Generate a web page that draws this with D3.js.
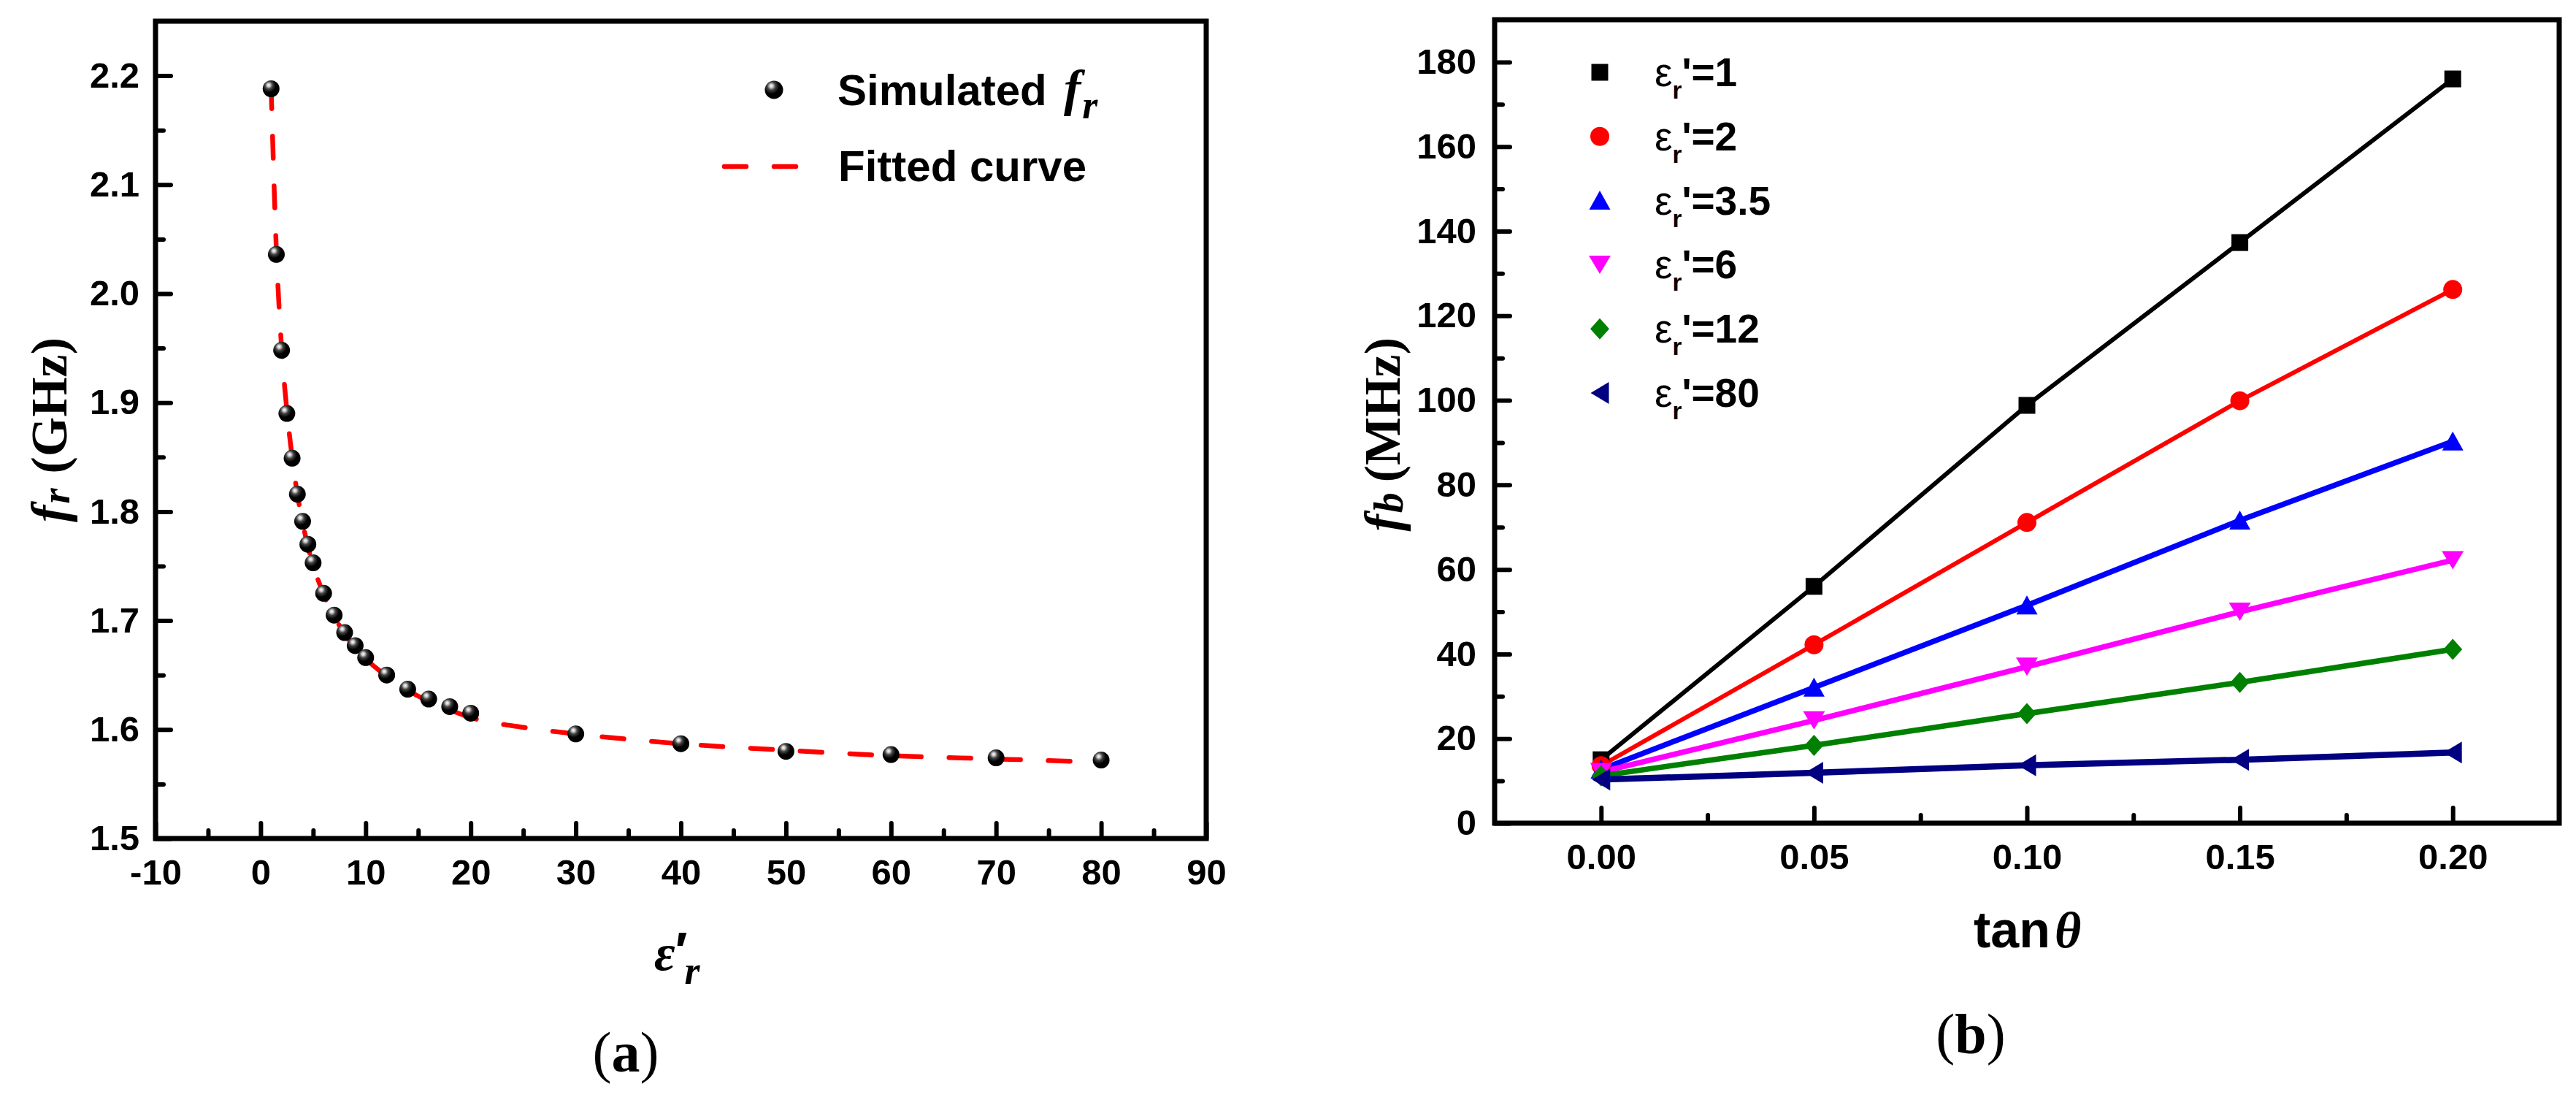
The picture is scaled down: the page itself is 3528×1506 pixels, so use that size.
<!DOCTYPE html>
<html><head><meta charset="utf-8">
<script src="https://cdn.jsdelivr.net/npm/d3@7"></script>
<style>body{margin:0;background:#fff}</style>
</head><body>
<svg id="c" width="3528" height="1506" xmlns="http://www.w3.org/2000/svg"></svg>
<script>
// ---------------- DATA ----------------
// Panel (a): simulated resonance frequency vs relative permittivity
const simEps = [1, 1.5, 2, 2.5, 3, 3.5, 4, 4.5, 5, 6, 7, 8, 9, 10, 12, 14, 16, 18, 20, 30, 40, 50, 60, 70, 80];
const simFr  = [2.188, 2.036, 1.948, 1.890, 1.849, 1.816, 1.791, 1.770, 1.753, 1.725, 1.705, 1.689, 1.677, 1.666, 1.650, 1.637, 1.628, 1.621, 1.615, 1.596, 1.587, 1.580, 1.577, 1.574, 1.572];
// Fitted curve
const fitEps = [1, 1.5, 2, 2.5, 3, 3.5, 4, 4.5, 5, 6, 7, 8, 9, 10, 12, 14, 16, 18, 20, 25, 30, 40, 50, 60, 70, 80];
const fitFr  = [2.190, 2.040, 1.950, 1.893, 1.850, 1.816, 1.790, 1.768, 1.751, 1.724, 1.704, 1.688, 1.675, 1.665, 1.649, 1.636, 1.626, 1.618, 1.611, 1.602, 1.596, 1.587, 1.581, 1.576, 1.573, 1.570];
const aXTicks = [-10, 0, 10, 20, 30, 40, 50, 60, 70, 80, 90];
const aXMinor = [-5, 5, 15, 25, 35, 45, 55, 65, 75, 85];
const aYTicks = [1.5, 1.6, 1.7, 1.8, 1.9, 2.0, 2.1, 2.2];
const aYMinor = [1.55, 1.65, 1.75, 1.85, 1.95, 2.05, 2.15];

// Panel (b): bandwidth vs loss tangent
const tanVals = [0, 0.05, 0.10, 0.15, 0.20];
const seriesLabels = ["1", "2", "3.5", "6", "12", "80"];
const fbEps1   = [15.0, 56.0, 98.8, 137.3, 176.0];
const fbEps2   = [13.6, 42.2, 71.1, 99.9, 126.2];
const fbEps3p5 = [12.7, 32.1, 51.5, 71.6, 90.3];
const fbEps6   = [12.1, 24.3, 37.0, 50.0, 62.2];
const fbEps12  = [11.2, 18.4, 25.9, 33.3, 41.1];
const fbEps80  = [10.3, 11.9, 13.7, 15.0, 16.7];
const bXTicks = [0, 0.05, 0.10, 0.15, 0.20];
const bXMinor = [0.025, 0.075, 0.125, 0.175];
const bYTicks = [0, 20, 40, 60, 80, 100, 120, 140, 160, 180];
const bYMinor = [10, 30, 50, 70, 90, 110, 130, 150, 170];

// ---------------- STYLE ----------------
const SANS = "'Liberation Sans', Arial, sans-serif";
const SERIF = "'Liberation Serif', 'Times New Roman', serif";
const colors = ["#000000", "#ff0000", "#0000ff", "#ff00ff", "#008000", "#000080"];
const widths = [6, 6, 7.5, 7.5, 7.5, 8.5];
const shapes = ["square", "circle", "triUp", "triDown", "diamond", "triLeft"];
const seriesData = [fbEps1, fbEps2, fbEps3p5, fbEps6, fbEps12, fbEps80];

function markerPath(shape) {
  switch (shape) {
    case "square": return "M-11.5,-11.5H11.5V11.5H-11.5Z";
    case "circle": return "M13,0A13,13 0 1,1 -13,0A13,13 0 1,1 13,0Z";
    case "triUp": return "M0,-13.5L14.5,12.5L-14.5,12.5Z";
    case "triDown": return "M0,12.5L15,-12.5L-15,-12.5Z";
    case "diamond": return "M0,-14.5L13,0L0,14.5L-13,0Z";
    case "triLeft": return "M-12.5,0L12.5,-15L12.5,15Z";
  }
}
const hyphenFmt = f => d => f(d).replace("\u2212", "-");

const svg = d3.select("#c");
const defs = svg.append("defs");
const grad = defs.append("radialGradient").attr("id", "sphere")
  .attr("cx", "0.38").attr("cy", "0.32").attr("r", "0.7")
  .attr("fx", "0.35").attr("fy", "0.28");
grad.append("stop").attr("offset", "0%").attr("stop-color", "#ffffff");
grad.append("stop").attr("offset", "14%").attr("stop-color", "#c8c8c8");
grad.append("stop").attr("offset", "32%").attr("stop-color", "#444444");
grad.append("stop").attr("offset", "60%").attr("stop-color", "#000000");
grad.append("stop").attr("offset", "100%").attr("stop-color", "#000000");

function styleAxis(g, fontSize) {
  g.select(".domain").remove();
  g.selectAll(".tick line").attr("stroke", "#000").attr("stroke-width", 6).attr("stroke-linecap", "round");
  g.selectAll(".tick text").attr("fill", "#000").attr("font-family", SANS)
    .attr("font-weight", "bold").attr("font-size", fontSize);
}

// ================= PANEL (a) =================
const A = {l: 213, r: 1652, t: 29, b: 1148};
const xa = d3.scaleLinear().domain([-10, 90]).range([A.l, A.r]);
const ya = d3.scaleLinear().domain([1.5, 2.25]).range([A.b, A.t]);
const gA = svg.append("g");

gA.append("g").attr("transform", `translate(0,${A.b})`)
  .call(d3.axisBottom(xa).tickValues(aXMinor).tickSize(-11).tickFormat(""))
  .call(g => styleAxis(g, 49));
gA.append("g").attr("transform", `translate(${A.l},0)`)
  .call(d3.axisLeft(ya).tickValues(aYMinor).tickSize(-11).tickFormat(""))
  .call(g => styleAxis(g, 49));
gA.append("g").attr("transform", `translate(0,${A.b})`)
  .call(d3.axisBottom(xa).tickValues(aXTicks).tickSize(-21).tickPadding(28).tickFormat(hyphenFmt(d3.format("d"))))
  .call(g => styleAxis(g, 49));
gA.append("g").attr("transform", `translate(${A.l},0)`)
  .call(d3.axisLeft(ya).tickValues(aYTicks).tickSize(-21).tickPadding(22).tickFormat(d3.format(".1f")))
  .call(g => styleAxis(g, 49));

// fitted curve
const fitPts = fitEps.map((e, i) => [e, fitFr[i]]);
gA.append("path").datum(fitPts)
  .attr("d", d3.line().x(d => xa(d[0])).y(d => ya(d[1])).curve(d3.curveMonotoneX))
  .attr("fill", "none").attr("stroke", "#ff0000").attr("stroke-width", 6.5)
  .attr("stroke-dasharray", "30,38").attr("stroke-linecap", "round");

// simulated points
const simPts = simEps.map((e, i) => [e, simFr[i]]);
gA.append("g").selectAll("circle").data(simPts).join("circle")
  .attr("cx", d => xa(d[0])).attr("cy", d => ya(d[1])).attr("r", 11.5)
  .attr("fill", "url(#sphere)");

// frame
gA.append("rect").attr("x", A.l).attr("y", A.t).attr("width", A.r - A.l).attr("height", A.b - A.t)
  .attr("fill", "none").attr("stroke", "#000").attr("stroke-width", 7);

// legend (a)
gA.append("circle").attr("cx", 1060).attr("cy", 123).attr("r", 12.5).attr("fill", "url(#sphere)");
const la1 = gA.append("text").attr("x", 1147).attr("y", 144)
  .attr("font-family", SANS).attr("font-weight", "bold").attr("font-size", 60);
la1.append("tspan").text("Simulated");
la1.append("tspan").attr("x", 1457).attr("font-family", SERIF).attr("font-style", "italic")
  .attr("font-size", 70).text("f");
la1.append("tspan").attr("dy", 18).attr("dx", 2).attr("font-family", SERIF).attr("font-style", "italic")
  .attr("font-size", 54).text("r");
gA.append("line").attr("x1", 992).attr("x2", 1092).attr("y1", 228).attr("y2", 228)
  .attr("stroke", "#ff0000").attr("stroke-width", 6.5).attr("stroke-linecap", "round")
  .attr("stroke-dasharray", "30,38");
gA.append("text").attr("x", 1148).attr("y", 248)
  .attr("font-family", SANS).attr("font-weight", "bold").attr("font-size", 60).text("Fitted curve");

// axis titles (a)
const yta = gA.append("text").attr("transform", "translate(91,462) rotate(-90)")
  .attr("text-anchor", "end").attr("font-family", SERIF).attr("font-weight", "bold").attr("font-size", 70);
yta.append("tspan").attr("font-style", "italic").text("f");
yta.append("tspan").attr("font-style", "italic").attr("font-size", 54).attr("dy", 4).attr("dx", 2).text("r");
yta.append("tspan").attr("dy", -4).attr("dx", 20).text("(GHz)");

const xta = gA.append("text").attr("x", 896).attr("y", 1328)
  .attr("font-family", SERIF).attr("font-weight", "bold").attr("font-style", "italic").attr("font-size", 70);
xta.append("tspan").text("ε");
xta.append("tspan").attr("font-style", "normal").attr("font-family", SANS).attr("dy", -2).text("′");
xta.append("tspan").attr("font-size", 54).attr("dy", 21).attr("dx", -4).text("r");

const lblA = gA.append("text").attr("x", 857).attr("y", 1467).attr("text-anchor", "middle")
  .attr("font-family", SERIF).attr("font-size", 78);
lblA.append("tspan").text("(");
lblA.append("tspan").attr("font-weight", "bold").text("a");
lblA.append("tspan").text(")");

// ================= PANEL (b) =================
const B = {l: 2047, r: 3505, t: 27, b: 1127};
const xb = d3.scaleLinear().domain([-0.025, 0.225]).range([B.l, B.r]);
const yb = d3.scaleLinear().domain([0, 190]).range([B.b, B.t]);
const gB = svg.append("g");

gB.append("g").attr("transform", `translate(0,${B.b})`)
  .call(d3.axisBottom(xb).tickValues(bXMinor).tickSize(-11).tickFormat(""))
  .call(g => styleAxis(g, 49));
gB.append("g").attr("transform", `translate(${B.l},0)`)
  .call(d3.axisLeft(yb).tickValues(bYMinor).tickSize(-11).tickFormat(""))
  .call(g => styleAxis(g, 49));
gB.append("g").attr("transform", `translate(0,${B.b})`)
  .call(d3.axisBottom(xb).tickValues(bXTicks).tickSize(-21).tickPadding(28).tickFormat(d3.format(".2f")))
  .call(g => styleAxis(g, 49));
gB.append("g").attr("transform", `translate(${B.l},0)`)
  .call(d3.axisLeft(yb).tickValues(bYTicks).tickSize(-21).tickPadding(25).tickFormat(d3.format("d")))
  .call(g => styleAxis(g, 49));

const lineB = d3.line().x(d => xb(d[0])).y(d => yb(d[1]));
seriesData.forEach((vals, i) => {
  const pts = tanVals.map((t, j) => [t, vals[j]]);
  gB.append("path").datum(pts).attr("d", lineB)
    .attr("fill", "none").attr("stroke", colors[i]).attr("stroke-width", widths[i])
    .attr("stroke-linejoin", "round");
});
seriesData.forEach((vals, i) => {
  const pts = tanVals.map((t, j) => [t, vals[j]]);
  gB.append("g").selectAll("path").data(pts).join("path")
    .attr("transform", d => `translate(${xb(d[0])},${yb(d[1])})`)
    .attr("d", markerPath(shapes[i])).attr("fill", colors[i]);
});

gB.append("rect").attr("x", B.l).attr("y", B.t).attr("width", B.r - B.l).attr("height", B.b - B.t)
  .attr("fill", "none").attr("stroke", "#000").attr("stroke-width", 7);

// legend (b)
seriesLabels.forEach((lab, i) => {
  const cy = 99 + 87.8 * i;
  gB.append("path").attr("transform", `translate(2191,${cy})`)
    .attr("d", markerPath(shapes[i])).attr("fill", colors[i]);
  const t = gB.append("text").attr("x", 2266).attr("y", cy + 19)
    .attr("font-family", SANS).attr("font-size", 55);
  t.append("tspan").text("ε");
  t.append("tspan").attr("font-size", 33).attr("font-weight", "bold").attr("dy", 17).text("r");
  t.append("tspan").attr("font-weight", "bold").attr("dy", -17).text("'=" + lab);
});

// axis titles (b)
const ytb = gB.append("text").attr("transform", "translate(1917,462) rotate(-90)")
  .attr("text-anchor", "end").attr("font-family", SERIF).attr("font-weight", "bold").attr("font-size", 70);
ytb.append("tspan").attr("font-style", "italic").text("f");
ytb.append("tspan").attr("font-style", "italic").attr("font-size", 56).attr("dy", 4).attr("dx", 2).text("b");
ytb.append("tspan").attr("dy", -4).attr("dx", 14).text("(MHz)");

const xtb = gB.append("text").attr("x", 2703).attr("y", 1297)
  .attr("font-family", SANS).attr("font-weight", "bold").attr("font-size", 70);
xtb.append("tspan").text("tan");
xtb.append("tspan").attr("font-family", SERIF).attr("font-style", "italic").attr("dx", 6).text("θ");

const lblB = gB.append("text").attr("x", 2699).attr("y", 1442).attr("text-anchor", "middle")
  .attr("font-family", SERIF).attr("font-size", 78);
lblB.append("tspan").text("(");
lblB.append("tspan").attr("font-weight", "bold").text("b");
lblB.append("tspan").text(")");
</script>
</body></html>
